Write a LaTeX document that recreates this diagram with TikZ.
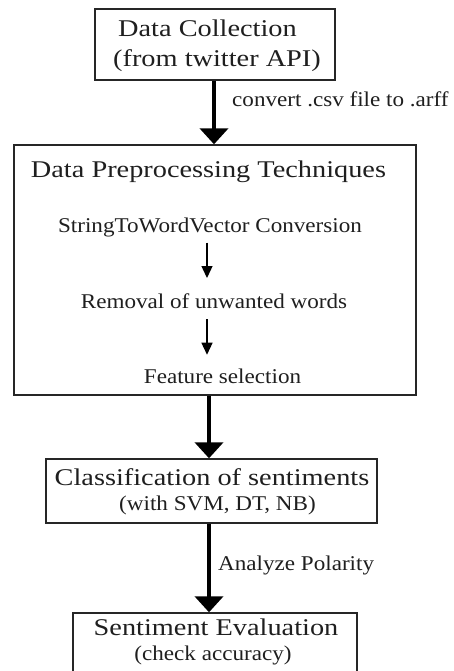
\documentclass[tikz,border=0pt]{standalone}
\usepackage{fontspec}
\setmainfont{Liberation Serif}
\usetikzlibrary{arrows.meta}
\newcommand\headtxt[1]{\scalebox{1.18}[1]{\fontsize{24}{28}\selectfont #1}}
\newcommand\bodytxt[1]{\scalebox{1.1}[1]{\fontsize{21}{25}\selectfont #1}}
\begin{document}
\begin{tikzpicture}[x=1pt,y=-1pt,
  box/.style={draw=black!85,line width=1.4pt,inner sep=0pt},
  txt/.style={inner sep=0pt,anchor=base,text=black!88},
  bigarrow/.style={draw=black,line width=4pt,-{Triangle[width=28pt,length=16pt]}},
  thinarrow/.style={draw=black,line width=1.3pt,-{Triangle[width=11pt,length=12pt]}}]
\useasboundingbox (0,0) rectangle (454,671);
\clip (0,0) rectangle (454,671);
\fill[white] (0,0) rectangle (454,671);
% boxes
\node[box,minimum width=240pt,minimum height=71pt] (b1) at (215,44.5) {};
\node[box,minimum width=402pt,minimum height=250pt] (b2) at (215,270) {};
\node[box,minimum width=331pt,minimum height=64pt] (b3) at (211.5,491) {};
\node[box,minimum width=284pt,minimum height=100pt] (b4) at (215,663) {};
% texts
\node[txt,anchor=base west] (t1a) at (118,37) {\headtxt{Data Collection}};
\node[txt,anchor=base west] (t1b) at (113,67) {\headtxt{(from twitter API)}};
\node[txt] (h2) at (208.5,177) {\headtxt{Data Preprocessing Techniques}};
\node[txt] (s1) at (210,232) {\bodytxt{StringToWordVector Conversion}};
\node[txt] (s2) at (214,308) {\bodytxt{Removal of unwanted words}};
\node[txt] (s3) at (222.5,383) {\bodytxt{Feature selection}};
\node[txt] (c1) at (212,485) {\headtxt{Classification of sentiments}};
\node[txt] (c2) at (217.5,510) {\bodytxt{(with SVM, DT, NB)}};
\node[txt] (e1) at (216,635) {\headtxt{Sentiment Evaluation}};
\node[txt] (e2) at (213,660) {\bodytxt{(check accuracy)}};
\node[txt,anchor=base west] (l1) at (232,107) {\bodytxt{convert .csv file to .arff}};
\node[txt,anchor=base west] (l2) at (218,570) {\bodytxt{Analyze Polarity}};
% arrow columns
\coordinate (xa) at (214,0);
\coordinate (xb) at (209,0);
\coordinate (xs) at (207,0);
\draw[bigarrow] (b1.south -| xa) -- (b2.north -| xa);
\draw[bigarrow] (b2.south -| xb) -- (b3.north -| xb);
\draw[bigarrow] (b3.south -| xb) -- (b4.north -| xb);
\draw[thinarrow,shorten <=6pt,shorten >=15pt] (s1.south -| xs) -- (s2.north -| xs);
\draw[thinarrow,shorten <=11pt,shorten >=13.5pt] (s2.south -| xs) -- (s3.north -| xs);
\end{tikzpicture}
\end{document}
